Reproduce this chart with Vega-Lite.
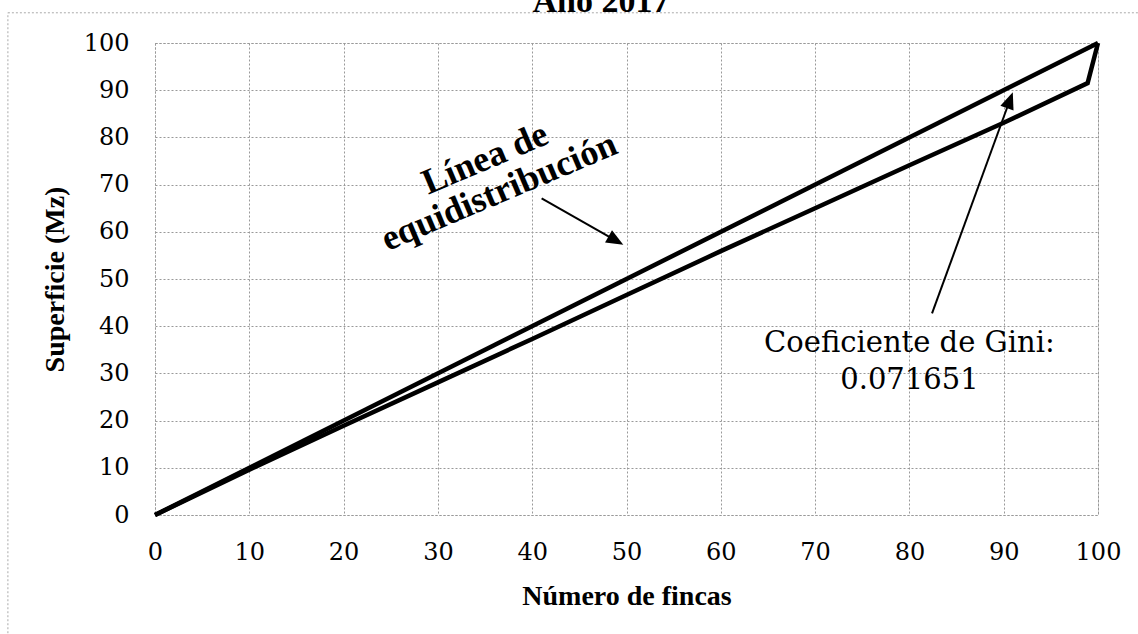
{
  "$schema": "https://vega.github.io/schema/vega-lite/v6.json",
  "width": 943,
  "height": 472,
  "autosize": {"type": "none"},
  "padding": {"left": 155, "top": 43, "right": 40, "bottom": 119},
  "background": "white",
  "config": {
    "view": {"stroke": "#999", "strokeDash": [2, 2], "strokeWidth": 1},
    "axis": {
      "labelFont": "DejaVu Serif",
      "labelFontSize": 24,
      "labelColor": "black",
      "titleFont": "Liberation Serif",
      "titleFontSize": 28,
      "titleFontWeight": "bold",
      "titleColor": "black",
      "grid": true,
      "gridColor": "#999",
      "gridDash": [2, 2],
      "gridWidth": 1,
      "domain": false,
      "ticks": false,
      "tickSize": 0
    }
  },
  "datasets": {
    "curves": [
      {"x": 0, "y": 0, "serie": "Equidistribución", "o": 0},
      {"x": 100, "y": 100, "serie": "Equidistribución", "o": 1},
      {"x": 0, "y": 0, "serie": "Lorenz", "o": 0},
      {"x": 10, "y": 9.6, "serie": "Lorenz", "o": 1},
      {"x": 20, "y": 18.9, "serie": "Lorenz", "o": 2},
      {"x": 30, "y": 28.1, "serie": "Lorenz", "o": 3},
      {"x": 40, "y": 37.3, "serie": "Lorenz", "o": 4},
      {"x": 50, "y": 46.6, "serie": "Lorenz", "o": 5},
      {"x": 60, "y": 55.9, "serie": "Lorenz", "o": 6},
      {"x": 70, "y": 65.0, "serie": "Lorenz", "o": 7},
      {"x": 80, "y": 74.1, "serie": "Lorenz", "o": 8},
      {"x": 90, "y": 83.1, "serie": "Lorenz", "o": 9},
      {"x": 98.9, "y": 91.5, "serie": "Lorenz", "o": 10},
      {"x": 100, "y": 100, "serie": "Lorenz", "o": 11}
    ],
    "arrows": [
      {"name": "equi", "x": 41.0, "y": 67.1, "x2": 48.74, "y2": 58.3, "dir": 119.8},
      {"name": "gini", "x": 82.4, "y": 42.7, "x2": 90.6, "y2": 87.6, "dir": 20.1}
    ],
    "frame": [
      {"x": -15.6, "x2": 110, "y": 106.4, "y2": -30}
    ],
    "titleText": [
      {"x": 47.3, "y": 106.6, "t": "Año 2017"}
    ],
    "equiLabel": [
      {"x": 35.0, "y": 75.5, "t": "Línea de\nequidistribución"}
    ],
    "giniLabel": [
      {"x": 80.0, "y": 34.6, "t": "Coeficiente de Gini:\n0.071651"}
    ]
  },
  "layer": [
    {
      "data": {"name": "frame"},
      "mark": {"type": "rect", "fill": null, "fillOpacity": 0, "stroke": "#aaa", "strokeDash": [2, 2], "strokeWidth": 1, "clip": false},
      "encoding": {
        "x": {"field": "x", "type": "quantitative", "scale": {"domain": [0, 100], "nice": false, "zero": false}},
        "x2": {"field": "x2"},
        "y": {"field": "y", "type": "quantitative", "scale": {"domain": [0, 100], "nice": false, "zero": false}},
        "y2": {"field": "y2"}
      }
    },
    {
      "data": {"name": "curves"},
      "mark": {"type": "line", "strokeWidth": 4.5, "strokeCap": "butt", "strokeJoin": "miter", "clip": false},
      "encoding": {
        "x": {
          "field": "x", "type": "quantitative",
          "scale": {"domain": [0, 100], "nice": false, "zero": false},
          "axis": {"values": [0, 10, 20, 30, 40, 50, 60, 70, 80, 90, 100], "title": "Número de fincas", "labelPadding": 25, "titlePadding": 18, "labelFlush": false}
        },
        "y": {
          "field": "y", "type": "quantitative",
          "scale": {"domain": [0, 100], "nice": false, "zero": false},
          "axis": {"values": [0, 10, 20, 30, 40, 50, 60, 70, 80, 90, 100], "title": "Superficie (Mz)", "labelPadding": 26, "titlePadding": 14, "labelFlush": false}
        },
        "detail": {"field": "serie", "type": "nominal"},
        "order": {"field": "o", "type": "quantitative"},
        "color": {"value": "black"}
      }
    },
    {
      "data": {"name": "arrows"},
      "mark": {"type": "rule", "color": "black", "strokeWidth": 2, "clip": false},
      "encoding": {
        "x": {"field": "x", "type": "quantitative"},
        "y": {"field": "y", "type": "quantitative"},
        "x2": {"field": "x2"},
        "y2": {"field": "y2"}
      }
    },
    {
      "data": {"name": "arrows"},
      "mark": {"type": "point", "shape": "M0,-1L0.7,0.7L-0.7,0.7Z", "filled": true, "color": "black", "size": 400, "opacity": 1, "strokeWidth": 0, "clip": false},
      "encoding": {
        "x": {"field": "x2", "type": "quantitative"},
        "y": {"field": "y2", "type": "quantitative"},
        "angle": {"field": "dir", "type": "quantitative", "scale": null}
      }
    },
    {
      "data": {"name": "titleText"},
      "mark": {"type": "text", "font": "Liberation Serif", "fontSize": 34, "fontWeight": "bold", "color": "black", "align": "center", "baseline": "alphabetic", "clip": false},
      "encoding": {
        "x": {"field": "x", "type": "quantitative"},
        "y": {"field": "y", "type": "quantitative"},
        "text": {"field": "t"}
      }
    },
    {
      "data": {"name": "equiLabel"},
      "mark": {"type": "text", "font": "Liberation Serif", "fontSize": 36, "fontWeight": "bold", "color": "black", "angle": -23, "align": "center", "baseline": "middle", "lineBreak": "\n", "lineHeight": 36},
      "encoding": {
        "x": {"field": "x", "type": "quantitative"},
        "y": {"field": "y", "type": "quantitative"},
        "text": {"field": "t"}
      }
    },
    {
      "data": {"name": "giniLabel"},
      "mark": {"type": "text", "font": "DejaVu Serif", "fontSize": 29, "color": "black", "align": "center", "baseline": "alphabetic", "lineBreak": "\n", "lineHeight": 37},
      "encoding": {
        "x": {"field": "x", "type": "quantitative"},
        "y": {"field": "y", "type": "quantitative"},
        "text": {"field": "t"}
      }
    }
  ]
}
